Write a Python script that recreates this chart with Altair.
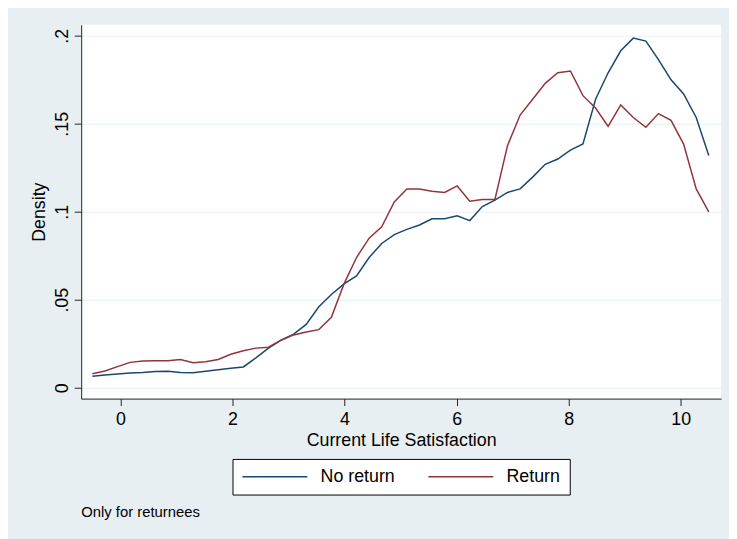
import altair as alt
import pandas as pd

# Evaluation points of the kernel density estimates (Current Life Satisfaction)
x_points = [-0.5, -0.276, -0.051, 0.173, 0.398, 0.622, 0.847, 1.071, 1.296, 1.52,
            1.745, 1.969, 2.194, 2.418, 2.643, 2.867, 3.092, 3.316, 3.541, 3.765,
            3.99, 4.214, 4.439, 4.663, 4.888, 5.112, 5.337, 5.561, 5.786, 6.01,
            6.235, 6.459, 6.684, 6.908, 7.133, 7.357, 7.582, 7.806, 8.031, 8.255,
            8.48, 8.704, 8.929, 9.153, 9.378, 9.602, 9.827, 10.051, 10.276, 10.5]

no_return = [0.0065, 0.0072, 0.0078, 0.0083, 0.0086, 0.0092, 0.0093, 0.0086, 0.0085, 0.0093,
             0.0102, 0.0110, 0.0118, 0.0170, 0.0225, 0.0270, 0.0305, 0.0360, 0.0460, 0.0530,
             0.0590, 0.0635, 0.0740, 0.0820, 0.0870, 0.0900, 0.0925, 0.0960, 0.0960, 0.0977,
             0.0950, 0.1030, 0.1066, 0.1110, 0.1130, 0.1197, 0.1270, 0.1300, 0.1350, 0.1385,
             0.1640, 0.1790, 0.1915, 0.1987, 0.1970, 0.1865, 0.1750, 0.1670, 0.1536, 0.1320]

returned = [0.0079, 0.0095, 0.0120, 0.0144, 0.0152, 0.0153, 0.0153, 0.0160, 0.0142, 0.0148,
            0.0160, 0.0190, 0.0210, 0.0225, 0.0230, 0.0270, 0.0300, 0.0317, 0.0330, 0.0400,
            0.0590, 0.0740, 0.0850, 0.0915, 0.1056, 0.1130, 0.1130, 0.1117, 0.1110, 0.1147,
            0.1060, 0.1070, 0.1070, 0.1376, 0.1550, 0.1640, 0.1730, 0.1790, 0.1800, 0.1660,
            0.1590, 0.1485, 0.1607, 0.1536, 0.1480, 0.1558, 0.1520, 0.1385, 0.1130, 0.1000]

series_names = ["No return", "Return"]
series_colors = ["#1a476f", "#90353b"]
y_ticks = [0, 0.05, 0.1, 0.15, 0.2]
x_ticks = [0, 2, 4, 6, 8, 10]

df = pd.concat([
    pd.DataFrame({"x": x_points, "density": no_return, "group": series_names[0]}),
    pd.DataFrame({"x": x_points, "density": returned, "group": series_names[1]}),
])

FONT = "Liberation Sans"

chart = alt.Chart(df).mark_line(strokeWidth=1.5).encode(
    x=alt.X("x:Q",
            scale=alt.Scale(domain=[-0.7, 10.72], nice=False, zero=False),
            axis=alt.Axis(values=x_ticks, title="Current Life Satisfaction",
                          grid=False, tickSize=7, labelPadding=5, titlePadding=3,
                          labelFlush=False)),
    y=alt.Y("density:Q",
            scale=alt.Scale(domain=[-0.0062, 0.2063], nice=False, zero=False),
            axis=alt.Axis(values=y_ticks, title="Density",
                          labelExpr="datum.value == 0 ? '0' : replace(format(datum.value, '.2~f'), /^0/, '')",
                          labelAngle=270, labelAlign="center", labelBaseline="bottom",
                          tickSize=7, labelPadding=3, titlePadding=5,
                          grid=True, gridColor="#e4eef2", gridWidth=1)),
    color=alt.Color("group:N",
                    scale=alt.Scale(domain=series_names, range=series_colors),
                    legend=alt.Legend(title=None, orient="none", legendX=153, legendY=439,
                                      direction="horizontal",
                                      symbolType="M-1,0H7.2",
                                      symbolSize=256, symbolStrokeWidth=1.5,
                                      labelFontSize=18, labelFont=FONT, labelColor="#000",
                                      labelOffset=62, columnPadding=30, padding=9,
                                      strokeColor="#000", fillColor="#ffffff")),
    order=alt.Order("x:Q"),
).properties(
    width=647,
    height=378,
    autosize=alt.AutoSizeParams(type="none"),
    padding={"left": 74, "top": 14, "right": 8, "bottom": 139},
    title=alt.TitleParams("Only for returnees", orient="bottom", anchor="start",
                          frame="group", fontSize=15, font=FONT, fontWeight="normal",
                          color="#000", offset=10),
).configure(
    background="#e8eff2",
).configure_view(
    fill="#ffffff",
    stroke=None,
).configure_axis(
    labelFont=FONT, titleFont=FONT, labelFontSize=18, titleFontSize=18,
    labelColor="#000", titleColor="#000", titleFontWeight="normal",
    domainColor="#222", tickColor="#222", domainWidth=1, tickWidth=1,
)

chart.save("out.html", embed_options={"renderer": "svg", "actions": False})
